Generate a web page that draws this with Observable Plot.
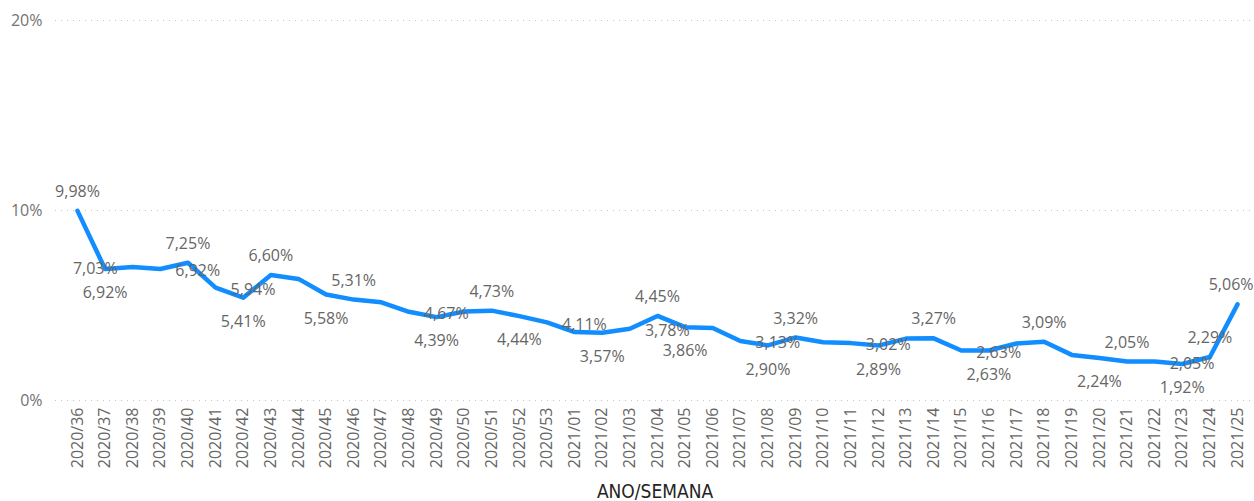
<!DOCTYPE html>
<html>
<head>
<meta charset="utf-8">
<script src="https://cdn.jsdelivr.net/npm/d3@7"></script>
<script src="https://cdn.jsdelivr.net/npm/@observablehq/plot@0.6"></script>
<style>
  html, body { margin: 0; padding: 0; background: #ffffff; }
  #chart svg { display: block; }
</style>
</head>
<body>
<div id="chart"></div>
<script>
// ---- data ----
const weeks = [
  "2020/36","2020/37","2020/38","2020/39","2020/40","2020/41","2020/42","2020/43","2020/44",
  "2020/45","2020/46","2020/47","2020/48","2020/49","2020/50","2020/51","2020/52","2020/53",
  "2021/01","2021/02","2021/03","2021/04","2021/05","2021/06","2021/07","2021/08","2021/09",
  "2021/10","2021/11","2021/12","2021/13","2021/14","2021/15","2021/16","2021/17","2021/18",
  "2021/19","2021/20","2021/21","2021/22","2021/23","2021/24","2021/25"
];
const rates = [
  9.98, 6.92, 7.03, 6.92, 7.25, 5.94, 5.41, 6.60, 6.40,
  5.58, 5.31, 5.17, 4.67, 4.39, 4.68, 4.73, 4.44, 4.11,
  3.60, 3.57, 3.78, 4.45, 3.86, 3.82, 3.13, 2.90, 3.32,
  3.07, 3.02, 2.89, 3.26, 3.27, 2.63, 2.63, 3.00, 3.09,
  2.40, 2.24, 2.05, 2.05, 1.92, 2.29, 5.06
];
const yTicks = [0, 10, 20];
const xTitle = "ANO/SEMANA";
// which side of its point each data label sits on ("" = label hidden)
const labelSide = [
  "above","below","left","right","above","right","below","above","",
  "below","above","","right","below","","above","below","right",
  "","below","right","above","below","","right","below","above",
  "","right","below","","above","right","below","","above",
  "","below","above","right","below","above","aboveEnd"
];

// ---- chart ----
const rows = weeks.map((w, i) => ({idx: i, week: w, rate: rates[i], side: labelSide[i]}));
const fmt = v => d3.format(".2f")(v).replace(".", ",") + "%";
const labelStyle = {fill: "#666666", fontSize: 16, text: d => fmt(d.rate), x: "idx", y: "rate"};

const chart = Plot.plot({
  width: 1254,
  height: 501,
  marginTop: 20,
  marginBottom: 101,
  marginLeft: 55,
  marginRight: 0,
  style: {fontFamily: "'Open Sans', 'Noto Sans', sans-serif", background: "#ffffff", overflow: "visible"},
  x: {type: "linear", domain: [0, weeks.length - 1], range: [77, 1237]},
  y: {domain: [0, 20]},
  marks: [
    Plot.gridY(yTicks, {stroke: "#c4c4c4", strokeOpacity: 1, strokeDasharray: "1,5", strokeWidth: 1}),
    Plot.axisY(yTicks, {tickSize: 0, tickPadding: 13, tickFormat: d => d + "%", fontSize: 16, fill: "#727272", label: null}),
    Plot.axisX(d3.range(weeks.length), {tickSize: 0, tickPadding: 7, tickRotate: -90, tickFormat: i => weeks[i],
      fontSize: 16, fill: "#666666", label: null}),
    Plot.line(rows, {x: "idx", y: "rate", stroke: "#118DFF", strokeWidth: 4.5, strokeLinejoin: "round", strokeLinecap: "round"}),
    Plot.text(rows.filter(d => d.side === "above"), {...labelStyle, dy: -19, lineAnchor: "middle"}),
    Plot.text(rows.filter(d => d.side === "aboveEnd"), {...labelStyle, dx: 16, dy: -19, textAnchor: "end", lineAnchor: "middle"}),
    Plot.text(rows.filter(d => d.side === "below"), {...labelStyle, dy: 24, lineAnchor: "middle"}),
    Plot.text(rows.filter(d => d.side === "right"), {...labelStyle, dx: 15, dy: 2, textAnchor: "start", lineAnchor: "middle"}),
    Plot.text(rows.filter(d => d.side === "left"), {...labelStyle, dx: -15, dy: 2, textAnchor: "end", lineAnchor: "middle"}),
    Plot.text([xTitle], {frameAnchor: "bottom", text: d => d, dy: 97, lineAnchor: "bottom",
      fontSize: 19, fill: "#252423", fontFamily: "'DejaVu Sans Condensed', 'DejaVu Sans', sans-serif"})
  ]
});
document.getElementById("chart").appendChild(chart);
</script>
</body>
</html>
